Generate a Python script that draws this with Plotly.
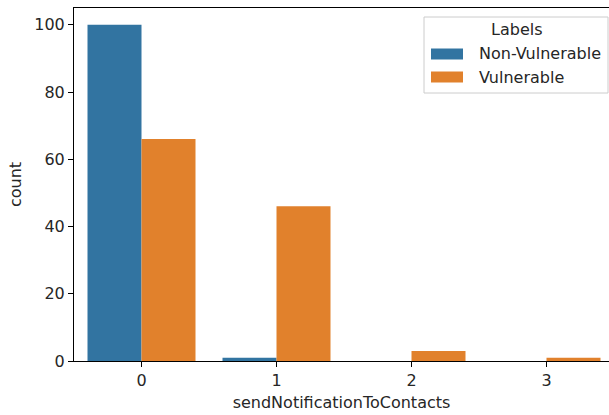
import plotly.graph_objects as go

categories = ["0", "1", "2", "3"]
non_vulnerable = [100, 1, 0, 0]
vulnerable = [66, 46, 3, 1]
series_names = ["Non-Vulnerable", "Vulnerable"]
colors = ["#3274a1", "#e1812c"]
x_pos = [0, 1, 2, 3]

W, H = 609, 415
L, R, T, B = 74, 0, 8, 54
pw, ph = W - L - R, H - T - B


def px(x):
    return (x - L) / pw


def py(y):
    return (H - B - y) / ph


fig = go.Figure()
for name, vals, col in zip(series_names, [non_vulnerable, vulnerable], colors):
    fig.add_trace(go.Bar(x=x_pos, y=vals, name=name, marker=dict(color=col, line=dict(width=0)),
                         showlegend=False))

# Legend drawn manually (matplotlib style)
shapes = [dict(type="rect", xref="paper", yref="paper", x0=px(424), x1=px(608), y0=py(93), y1=py(17),
               line=dict(color="#cccccc", width=1), fillcolor="rgba(255,255,255,0.8)", layer="above")]
annotations = [dict(text="Labels", xref="paper", yref="paper", x=px(517), y=py(30), xanchor="center",
                    yanchor="middle", showarrow=False, font=dict(size=16))]
for i, (name, col) in enumerate(zip(series_names, colors)):
    yc = 54 + i * 23
    shapes.append(dict(type="rect", xref="paper", yref="paper", x0=px(431), x1=px(463),
                       y0=py(yc + 5.5), y1=py(yc - 5.5), line=dict(width=0), fillcolor=col, layer="above"))
    annotations.append(dict(text=name, xref="paper", yref="paper", x=px(477), y=py(yc), xanchor="left",
                            yanchor="middle", showarrow=False, font=dict(size=16)))

fig.update_layout(
    width=W, height=H,
    margin=dict(l=L, r=R, t=T, b=B, pad=0),
    paper_bgcolor="white", plot_bgcolor="white",
    barmode="group", bargap=0.2, bargroupgap=0,
    font=dict(family="DejaVu Sans", size=16, color="#262626"),
    showlegend=False,
    shapes=shapes, annotations=annotations,
    xaxis=dict(
        range=[-0.5, 3.463], tickmode="array", tickvals=x_pos, ticktext=categories,
        showline=True, linecolor="black", linewidth=1.1, mirror=True,
        ticks="outside", ticklen=5, tickcolor="black", tickwidth=1.1,
        showgrid=False, zeroline=False,
        title=dict(text="sendNotificationToContacts", standoff=7, font=dict(size=16)),
        tickfont=dict(size=16),
    ),
    yaxis=dict(
        range=[0, 105], tickvals=[0, 20, 40, 60, 80, 100],
        showline=True, linecolor="black", linewidth=1.1, mirror=False,
        ticks="outside", ticklen=5, tickcolor="black", tickwidth=1.1,
        showgrid=False, zeroline=False,
        title=dict(text="count", standoff=8, font=dict(size=16)),
        tickfont=dict(size=16),
    ),
)
fig.write_html("out.html", config={"displayModeBar": False},
               post_script="document.body.style.margin='0px';document.body.style.overflow='hidden';")
